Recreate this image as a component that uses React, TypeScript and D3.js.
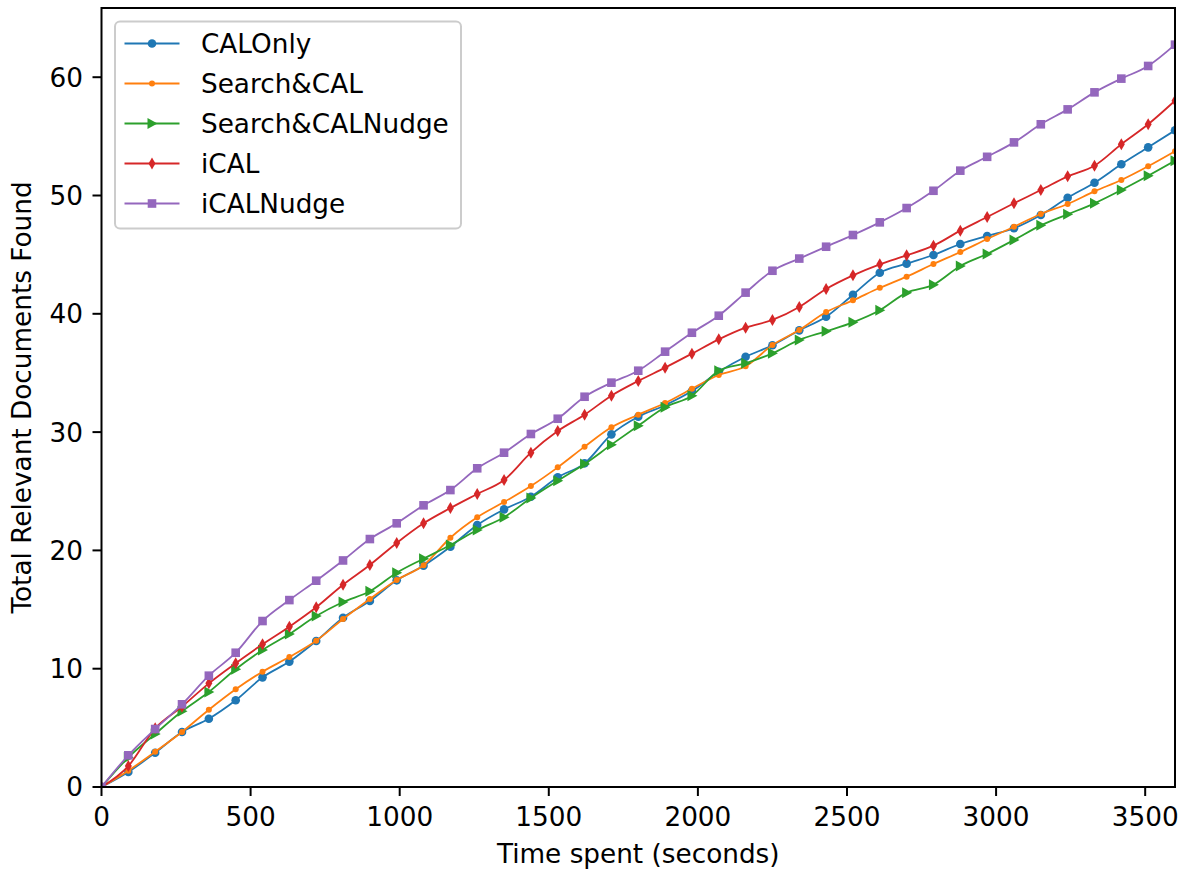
import * as d3 from 'd3';
import React from 'react';

const times = [0, 90, 180, 270, 360, 450, 540, 630, 720, 810, 900, 990, 1080, 1170, 1260, 1350, 1440, 1530, 1620, 1710, 1800, 1890, 1980, 2070, 2160, 2250, 2340, 2430, 2520, 2610, 2700, 2790, 2880, 2970, 3060, 3150, 3240, 3330, 3420, 3510, 3600];

const calOnly = [0, 1.27, 2.9, 4.65, 5.77, 7.33, 9.27, 10.6, 12.34, 14.31, 15.72, 17.47, 18.71, 20.31, 22.15, 23.47, 24.54, 26.18, 27.36, 29.81, 31.3, 32.27, 33.47, 35.1, 36.37, 37.34, 38.6, 39.75, 41.61, 43.47, 44.24, 44.97, 45.9, 46.58, 47.23, 48.35, 49.81, 51.08, 52.64, 54.07, 55.51];
const searchCal = [0, 1.38, 2.98, 4.65, 6.53, 8.26, 9.75, 10.99, 12.37, 14.2, 15.89, 17.5, 18.74, 21.07, 22.8, 24.09, 25.44, 27.02, 28.77, 30.41, 31.47, 32.46, 33.67, 34.83, 35.56, 37.36, 38.63, 40.15, 41.14, 42.2, 43.14, 44.21, 45.22, 46.32, 47.36, 48.44, 49.28, 50.35, 51.31, 52.47, 53.74];
const searchCalNudge = [0, 2.5, 4.48, 6.4, 8.03, 9.95, 11.58, 12.93, 14.45, 15.64, 16.54, 18.11, 19.3, 20.46, 21.72, 22.8, 24.43, 25.89, 27.3, 28.94, 30.54, 32.1, 33.08, 35.19, 35.82, 36.66, 37.79, 38.52, 39.28, 40.3, 41.79, 42.46, 44.04, 45.06, 46.24, 47.48, 48.41, 49.34, 50.46, 51.67, 52.94];
const iCal = [0, 1.77, 4.96, 6.79, 8.76, 10.46, 12.06, 13.55, 15.19, 17.1, 18.77, 20.63, 22.29, 23.58, 24.77, 25.95, 28.26, 30.09, 31.47, 33.08, 34.32, 35.45, 36.63, 37.84, 38.83, 39.48, 40.58, 42.1, 43.25, 44.18, 44.94, 45.76, 47.03, 48.18, 49.34, 50.46, 51.62, 52.52, 54.33, 56.02, 58.01];
const iCalNudge = [0, 2.68, 4.9, 6.99, 9.41, 11.35, 14.03, 15.8, 17.44, 19.15, 20.96, 22.29, 23.81, 25.1, 26.94, 28.26, 29.84, 31.13, 32.99, 34.18, 35.19, 36.8, 38.4, 39.84, 41.79, 43.64, 44.67, 45.67, 46.66, 47.73, 48.94, 50.4, 52.1, 53.27, 54.49, 56.02, 57.28, 58.72, 59.88, 60.95, 62.75];

const seriesNames = ['CALOnly', 'Search&CAL', 'Search&CALNudge', 'iCAL', 'iCALNudge'];
const seriesValues = [calOnly, searchCal, searchCalNudge, iCal, iCalNudge];
const colors = ['#1f77b4', '#ff7f0e', '#2ca02c', '#d62728', '#9467bd'];
const markerKinds = ['circle', 'dot', 'triangle', 'diamond', 'square'];

const xTicks = [0, 500, 1000, 1500, 2000, 2500, 3000, 3500];
const yTicks = [0, 10, 20, 30, 40, 50, 60];

const W = 1188;
const H = 874;
const left = 101.5;
const right = 1175;
const top = 8;
const bottom = 787;
const font = 'DejaVu Sans, sans-serif';
const fs = 26.3;

function Marker({ kind, x, y, color }: { kind: string; x: number; y: number; color: string }) {
  if (kind === 'circle') return <circle cx={x} cy={y} r={4.3} fill={color} />;
  if (kind === 'dot') return <circle cx={x} cy={y} r={3} fill={color} />;
  if (kind === 'triangle')
    return <path d={`M${x + 5.5},${y} L${x - 4.5},${y - 5.5} L${x - 4.5},${y + 5.5} Z`} fill={color} />;
  if (kind === 'diamond')
    return <path d={`M${x},${y - 6} L${x + 3.5},${y} L${x},${y + 6} L${x - 3.5},${y} Z`} fill={color} />;
  return <rect x={x - 4.3} y={y - 4.3} width={8.6} height={8.6} fill={color} />;
}

export default function App() {
  const x = d3.scaleLinear().domain([0, 3600]).range([left, right]);
  const y = d3.scaleLinear().domain([0, 65.85]).range([bottom, top]);

  const line = d3
    .line<number>()
    .x((_, i) => x(times[i]))
    .y(d => y(d))
    .curve(d3.curveMonotoneX);

  const legendRows = [43.5, 83.5, 123.5, 163.5, 203.5];

  return (
    <svg
      width={W}
      height={H}
      style={{ position: 'absolute', left: 0, top: 0, background: '#fff' }}
      fontFamily={font}
    >
      <defs>
        <clipPath id="plot">
          <rect x={left} y={top} width={right - left} height={bottom - top} />
        </clipPath>
      </defs>

      <g clipPath="url(#plot)">
        {seriesValues.map((vals, si) => (
          <g key={seriesNames[si]}>
            <path d={line(vals) || ''} fill="none" stroke={colors[si]} strokeWidth={1.8} />
            {vals.map((v, i) => (
              <Marker key={i} kind={markerKinds[si]} x={x(times[i])} y={y(v)} color={colors[si]} />
            ))}
          </g>
        ))}
      </g>

      {/* axes frame */}
      <rect x={left} y={top} width={right - left} height={bottom - top} fill="none" stroke="#000" strokeWidth={2} />

      {xTicks.map(t => (
        <g key={t}>
          <line x1={x(t)} x2={x(t)} y1={bottom} y2={bottom + 9} stroke="#000" strokeWidth={2} />
          <text x={x(t)} y={826} textAnchor="middle" fontSize={fs}>
            {t}
          </text>
        </g>
      ))}
      {yTicks.map(t => (
        <g key={t}>
          <line x1={left - 9} x2={left} y1={y(t)} y2={y(t)} stroke="#000" strokeWidth={2} />
          <text x={83} y={y(t)} dy="0.36em" textAnchor="end" fontSize={fs}>
            {t}
          </text>
        </g>
      ))}

      <text x={(left + right) / 2} y={863} textAnchor="middle" fontSize={fs}>
        Time spent (seconds)
      </text>
      <text
        transform={`translate(31, ${(top + bottom) / 2}) rotate(-90)`}
        textAnchor="middle"
        fontSize={fs}
      >
        Total Relevant Documents Found
      </text>

      {/* legend */}
      <rect x={115} y={21.5} width={346} height={207} rx={5} fill="#fff" fillOpacity={0.8} stroke="#cccccc" strokeWidth={2} />
      {seriesNames.map((name, si) => (
        <g key={name}>
          <line x1={124.5} x2={179.5} y1={legendRows[si]} y2={legendRows[si]} stroke={colors[si]} strokeWidth={1.8} />
          <Marker kind={markerKinds[si]} x={152} y={legendRows[si]} color={colors[si]} />
          <text x={201} y={legendRows[si]} dy="0.36em" fontSize={fs}>
            {name}
          </text>
        </g>
      ))}
    </svg>
  );
}
